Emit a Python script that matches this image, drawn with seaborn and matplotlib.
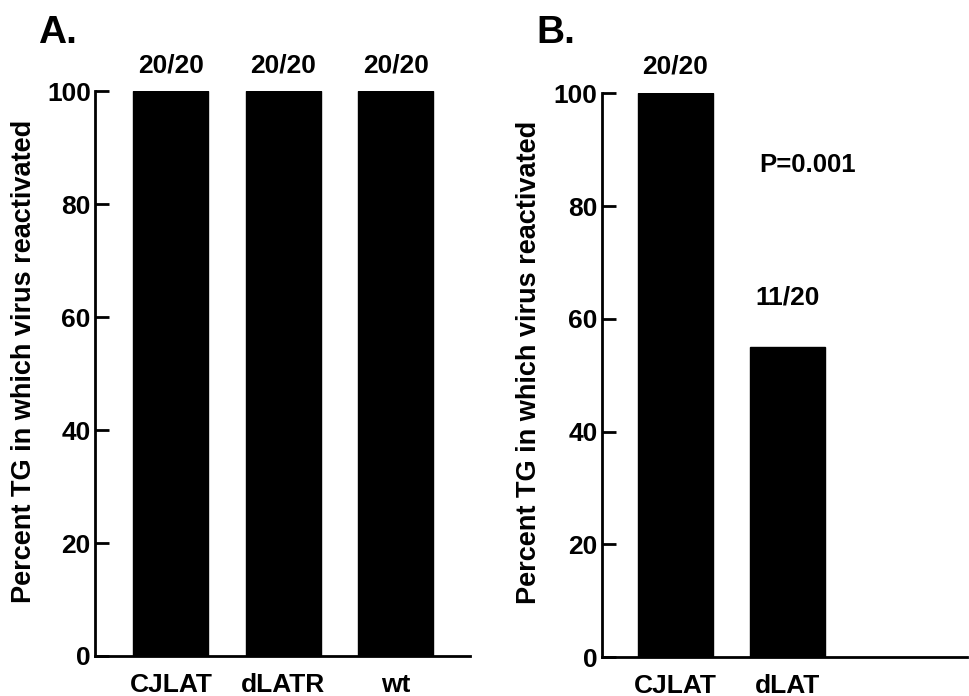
import matplotlib
matplotlib.use("Agg")
import matplotlib.pyplot as plt
import seaborn as sns
import pandas as pd

sns.set_theme(style="white")
plt.rcParams['font.family'] = ['Liberation Sans', 'DejaVu Sans']
plt.rcParams['font.weight'] = 'bold'
plt.rcParams['text.color'] = 'black'
plt.rcParams['axes.labelcolor'] = 'black'
plt.rcParams['xtick.color'] = 'black'
plt.rcParams['ytick.color'] = 'black'
plt.rcParams['ytick.direction'] = 'in'
plt.rcParams['ytick.left'] = True

cats_a = ["CJLAT", "dLATR", "wt"]
vals_a = [100, 100, 100]
labels_a = ["20/20", "20/20", "20/20"]

cats_b = ["CJLAT", "dLAT"]
vals_b = [100, 55]
labels_b = ["20/20", "11/20"]

ylabel = "Percent TG in which virus reactivated"
yticks = [0, 20, 40, 60, 80, 100]

fig = plt.figure(figsize=(9.69, 6.96), dpi=100)
axA = fig.add_axes([0.098, 0.0575, 0.387, 0.8115])
axB = fig.add_axes([0.621, 0.056, 0.377, 0.810])

def style(ax, cats, vals, labels, xlim, offsets, labx):
    df = pd.DataFrame({"cat": cats, "val": vals})
    sns.barplot(data=df, x="cat", y="val", ax=ax, color="black",
                width=0.667, saturation=1, edgecolor="black")
    ax.set_ylim(0, 100)
    ax.set_xlim(*xlim)
    ax.set_yticks(yticks)
    ax.set_yticklabels([str(t) for t in yticks], fontsize=19, fontweight='bold')
    ax.tick_params(axis='y', direction='in', length=10, width=2, pad=3,
                   left=True, colors='black')
    ax.tick_params(axis='x', length=0, pad=12, labelsize=19, colors='black')
    for lab in ax.get_xticklabels():
        lab.set_fontweight('bold')
    ax.set_xlabel("")
    ax.set_ylabel(ylabel, fontsize=19.5, fontweight='bold', color='black')
    ax.yaxis.set_label_coords(labx, 0.522)
    for s in ["top", "right"]:
        ax.spines[s].set_visible(False)
    for s in ["left", "bottom"]:
        ax.spines[s].set_linewidth(2)
        ax.spines[s].set_color("black")
    for i, (v, l) in enumerate(zip(vals, labels)):
        ax.text(i, v + offsets[i], l, ha="center", va="center", color="black",
                fontsize=19, fontweight="bold", clip_on=False)

style(axA, cats_a, vals_a, labels_a, (-0.676, 2.66), [4.6, 4.6, 4.6], -0.155)
style(axB, cats_b, vals_b, labels_b, (-0.656, 2.6), [4.8, 8.8], -0.164)

axB.text(0.75, 87.3, "P=0.001", ha="left", va="center", fontsize=18.5,
         fontweight="bold", color="black")

fig.text(0.039, 0.953, "A.", fontsize=28, fontweight="bold", ha="left", va="center", color="black")
fig.text(0.554, 0.953, "B.", fontsize=28, fontweight="bold", ha="left", va="center", color="black")

fig.savefig("out.png", dpi=100)
